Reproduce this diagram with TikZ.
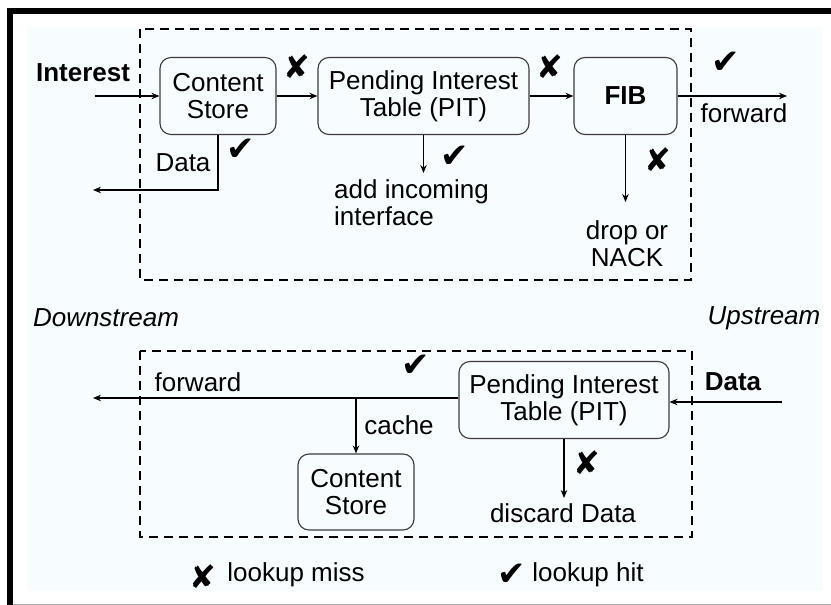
\documentclass[tikz,border=0pt]{standalone}
\usepackage{fontspec}
\setmainfont{Liberation Sans}
\newfontfamily\symfont{DejaVu Sans}
\usetikzlibrary{arrows.meta}
\definecolor{panel}{RGB}{247,252,255}
\definecolor{boxline}{RGB}{60,60,60}
\newcommand{\hit}{{\symfont\fontsize{34}{34}\selectfont ✔}}
\newcommand{\miss}{{\symfont\fontsize{32}{32}\selectfont ✘}}
\begin{document}
\begin{tikzpicture}[x=1pt,y=-1pt,
  every node/.style={font=\fontsize{26}{27}\selectfont, inner sep=0pt},
  table/.style={draw=boxline, line width=1.1pt, rounded corners=11pt, align=center, minimum height=77pt},
  stage/.style={draw, line width=1.8pt, dash pattern=on 9pt off 6pt},
  flow/.style={line width=1.3pt, -{Stealth[length=8pt,width=6.5pt]}},
  tick/.style={}]
  \useasboundingbox (0,0) rectangle (831,605);
  % page and frame
  \fill[white] (0,0) rectangle (831,605);
  \fill[panel] (27,27) rectangle (823,591);
  \draw[gray!60, line width=0.8pt] (10,604) -- (831,604);
  \fill[black] (7,8) rectangle (831,14);
  \fill[black] (7,8) rectangle (13,605);

  % router stages
  \draw[stage] (140,29) rectangle (691,280);
  \draw[stage] (140,351) rectangle (692,537);

  % ---- Interest path ----
  \node[table, minimum width=116pt] (cs) at (218,96) {Content\\Store};
  \node[table, minimum width=211pt] (pit) at (423.5,96) {Pending Interest\\Table (PIT)};
  \node[table, minimum width=103pt] (fib) at (625.5,96) {\textbf{FIB}};

  \node[font=\fontsize{26}{27}\selectfont\bfseries] (interest) at (83,73) {Interest};
  \coordinate (inStart) at (95,96);
  \draw[flow] (inStart) -- (cs.west);
  \draw[flow] (cs.east) -- (pit.west);
  \draw[flow] (pit.east) -- (fib.west);
  \coordinate (fwdEnd) at (787,96);
  \draw[flow] (fib.east) -- (fwdEnd);
  \node (fwdTop) at (744,113) {forward};

  \coordinate (dataOut) at (93,190);
  \draw[flow] (cs.south) |- (dataOut);
  \node (dataTop) at (183,163) {Data};

  \coordinate (pitDown) at (423.5,173);
  \draw[flow] (pit.south) -- (pitDown);
  \node[anchor=west, align=left] (addif) at (334,203) {add incoming\\interface};

  \coordinate (fibDown) at (625.5,202);
  \draw[flow] (fib.south) -- (fibDown);
  \node[align=center] (drop) at (627,244) {drop or\\NACK};

  \node[tick] (m1) at (297,67) {\miss};
  \node[tick] (m2) at (550,67) {\miss};
  \node[tick] (m3) at (658,160) {\miss};
  \node[tick] (h1) at (241,150) {\hit};
  \node[tick] (h2) at (455,157) {\hit};
  \node[tick] (h3) at (726,63) {\hit};

  % ---- direction labels ----
  \node[font=\fontsize{26}{27}\selectfont\itshape] (down) at (106,318) {Downstream};
  \node[font=\fontsize{26}{27}\selectfont\itshape] (up) at (764,318) {Upstream};

  % ---- Data path ----
  \node[table, minimum width=210pt] (pit2) at (564,400) {Pending Interest\\Table (PIT)};
  \node[table, minimum width=116pt, minimum height=76pt] (cs2) at (356,492) {Content\\Store};

  \node[font=\fontsize{26}{27}\selectfont\bfseries] (dataIn) at (733,382) {Data};
  \coordinate (dataStart) at (782,402);
  \draw[flow] (dataStart) -- (pit2.east |- dataStart);

  \coordinate (fwdOut) at (93,398);
  \coordinate (split) at (cs2.north |- fwdOut);
  \draw[flow] (pit2.west |- fwdOut) -- (fwdOut);
  \draw[flow] (split) -- (cs2.north);
  \node (fwdBot) at (198,382) {forward};
  \node (cache) at (399,425) {cache};

  \coordinate (pit2Down) at (564,498);
  \draw[flow] (pit2.south) -- (pit2Down);
  \node (discard) at (563,513) {discard Data};

  \node[tick] (h4) at (416,366) {\hit};
  \node[tick] (m4) at (587,463) {\miss};

  % ---- legend ----
  \node[tick] (legMiss) at (203,577) {\miss};
  \node (legMissTxt) at (296,575) {lookup miss};
  \node[tick] (legHit) at (512,575) {\hit};
  \node (legHitTxt) at (588,575) {lookup hit};
\end{tikzpicture}
\end{document}
